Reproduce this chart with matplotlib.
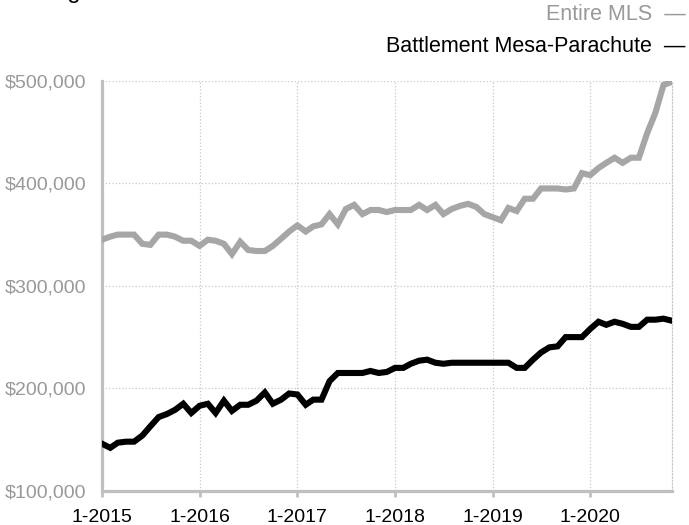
import matplotlib.pyplot as plt
import pandas as pd

plt.rcParams['font.family'] = ['Liberation Sans', 'DejaVu Sans']

months = pd.date_range('2015-01-01', '2020-11-01', freq='MS')

# average sale price, thousands of dollars
entire_mls = [345, 348, 350, 350, 350, 341, 340, 350, 350, 348, 344, 344,
              339, 345, 344, 341, 331, 343, 335, 334, 334, 339, 346, 353,
              359, 353, 358, 360, 370, 360, 375, 379, 370, 374, 374, 372,
              374, 374, 374, 379, 374, 379, 370, 375, 378, 380, 377, 370,
              367, 364, 376, 373, 385, 385, 395, 395, 395, 394, 395, 410,
              408, 415, 420, 425, 420, 425, 425, 449, 469, 496, 499]
battlement = [146, 142, 147, 148, 148, 154, 163, 172, 175, 179, 185, 176,
              183, 185, 176, 188, 178, 184, 184, 188, 196, 185, 189, 195,
              194, 184, 189, 189, 207, 215, 215, 215, 215, 217, 215, 216,
              220, 220, 224, 227, 228, 225, 224, 225, 225, 225, 225, 225,
              225, 225, 225, 220, 220, 228, 235, 240, 241, 250, 250, 250,
              258, 265, 262, 265, 263, 260, 260, 267, 267, 268, 266]

year_ticks = pd.date_range('2015-01-01', '2020-01-01', freq='YS')
year_labels = ['1-2015', '1-2016', '1-2017', '1-2018', '1-2019', '1-2020']
price_ticks = [100000, 200000, 300000, 400000, 500000]
price_labels = ['$100,000', '$200,000', '$300,000', '$400,000', '$500,000']

fig = plt.figure(figsize=(6.89, 5.25), dpi=100)
ax = fig.add_axes([0.148, 0.065, 0.827, 0.781])

ax.plot(months, [v * 1000 for v in entire_mls], color='#a6a6a6', lw=4.4,
        solid_joinstyle='miter', zorder=3)
ax.plot(months, [v * 1000 for v in battlement], color='black', lw=4.4,
        solid_joinstyle='miter', zorder=4)

ax.set_xlim(months[0], months[-1])
ax.set_ylim(100000, 500000)
ax.set_xticks(year_ticks)
ax.set_xticklabels(year_labels, fontsize=14, color='black')
ax.set_yticks(price_ticks)
ax.set_yticklabels(price_labels, fontsize=14, color='#999999')

ax.grid(True, linestyle=':', color='#c8c8c8', lw=0.9)
ax.tick_params(axis='x', length=4, width=2, color='#c0c0c0', pad=9)
ax.tick_params(axis='y', length=0, pad=11)

for side in ['left', 'bottom']:
    ax.spines[side].set_color('#c0c0c0')
    ax.spines[side].set_linewidth(2.3)
ax.spines['top'].set_visible(False)
ax.spines['right'].set_linestyle(':')
ax.spines['right'].set_color('#c8c8c8')
ax.spines['right'].set_linewidth(0.9)

# legend in the top right corner, text then a dash
fig.text(0.995, 1 - 14 / 525, 'Entire MLS  \u2014', ha='right', va='center',
         fontsize=15.5, color='#999999')
fig.text(0.995, 1 - 47 / 525, 'Battlement Mesa-Parachute  \u2014', ha='right',
         va='center', fontsize=15.5, color='black')

# title sits almost wholly above the figure edge
fig.text(0.008, 1 + 2 / 525, 'Average Sales Price', ha='left', va='baseline',
         fontsize=17, color='black')

fig.savefig('out.png', dpi=100)
